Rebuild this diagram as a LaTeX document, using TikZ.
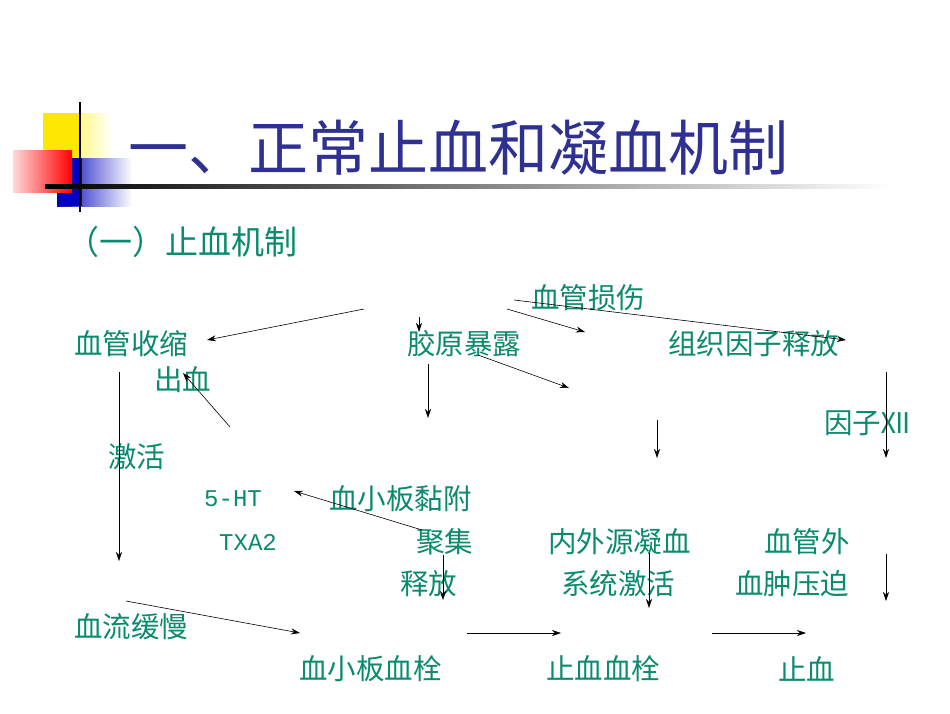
\documentclass[tikz,border=0pt]{standalone}
\usepackage{fontspec}
\newfontfamily\cjk{Noto Sans CJK SC}
\newfontfamily\mono{Liberation Mono}
\usetikzlibrary{arrows.meta}
\definecolor{tg}{HTML}{0A8A6E}
\definecolor{tb}{HTML}{2E3192}
\begin{document}
\begin{tikzpicture}[x=1pt,y=-1pt,
  lab/.style={anchor=west,inner sep=0pt,text=tg,font=\cjk\fontsize{28.5}{28.5}\selectfont},
  mlab/.style={anchor=west,inner sep=0pt,text=tg,font=\mono\fontsize{24}{24}\selectfont},
  arr/.style={-{Stealth[length=9pt,width=6pt]},line width=0.6pt}]
\useasboundingbox (0,0) rectangle (950,713);
% logo
\shade[left color=yellow!90!orange,right color=white] (43,113) rectangle (112,165);
\fill[yellow!90!orange] (43,113) rectangle (80,165);
\shade[left color=blue!75!black,right color=white] (57,158) rectangle (132,206);
\fill[blue!75!black] (57,158) rectangle (82,206);
\shade[left color=red!15!white,right color=red] (13,150) rectangle (72,192);
\draw[line width=1.5pt] (80,102) -- (80,212);
\shade[left color=black,right color=white] (45,184.5) rectangle (890,188);
% title
\node[anchor=west,inner sep=0pt,text=tb,font=\cjk\fontsize{60}{60}\selectfont] (title) at (128,148) {一、正常止血和凝血机制};
\node[anchor=west,inner sep=0pt,text=tg,font=\cjk\fontsize{33}{33}\selectfont] (sub) at (66,242) {（一）止血机制};
% labels
\node[lab] (n1) at (531,298) {血管损伤};
\node[lab] (n2) at (74,344) {血管收缩};
\node[lab] (n3) at (407,344) {胶原暴露};
\node[lab] (n4) at (668,344) {组织因子释放};
\node[lab] (n5) at (154,380) {出血};
\node[lab] (n6) at (824,423) {因子Ⅻ};
\node[lab] (n7) at (108,457) {激活};
\node[mlab] (n8) at (204,499) {5-HT};
\node[lab] (n9) at (329,499) {血小板黏附};
\node[mlab] (n10) at (219,542) {TXA2};
\node[lab] (n11) at (416,542) {聚集};
\node[lab] (n12) at (548,542) {内外源凝血};
\node[lab] (n13) at (764,542) {血管外};
\node[lab] (n14) at (400,584) {释放};
\node[lab] (n15) at (561,584) {系统激活};
\node[lab] (n16) at (735,584) {血肿压迫};
\node[lab] (n17) at (74,627) {血流缓慢};
\node[lab] (n18) at (299,669) {血小板血栓};
\node[lab] (n19) at (546,669) {止血血栓};
\node[lab] (n20) at (778,669) {止血};
% arrows
\foreach \i/\a/\b/\c/\d in {1/364/309/207/340, 2/419/317/419/332, 3/507/309/585/332,
  4/514/300/846/340, 5/478/355/569/388, 6/428/364/428/418, 7/657/420/657/458,
  8/886/372/886/458, 9/119/372/119/561, 10/230/427/183/373, 11/422/530/294/491,
  12/443/555/443/600, 13/126/601/300/633, 14/467/633/561/633, 15/649/553/649/608,
  16/712/633/806/633, 17/886/554/886/601}{
  \coordinate (s\i) at (\a,\b); \coordinate (e\i) at (\c,\d);
  \draw[arr] (s\i) -- (e\i);
}
\end{tikzpicture}
\end{document}
